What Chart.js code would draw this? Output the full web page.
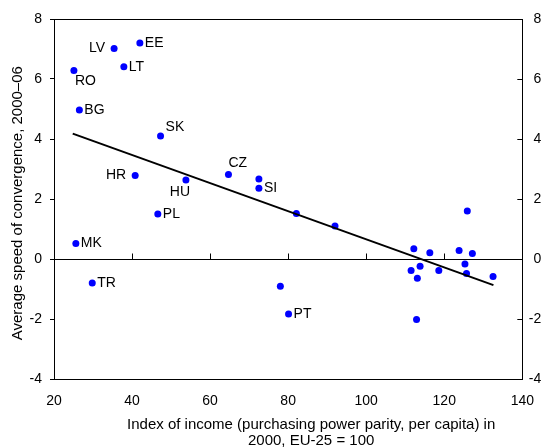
<!DOCTYPE html>
<html>
<head>
<meta charset="utf-8">
<script src="https://cdn.jsdelivr.net/npm/chart.js@4.4.1/dist/chart.umd.min.js"></script>
<style>
  body { margin: 0; background: #fff; }
  canvas { display: block; }
</style>
</head>
<body>
<canvas id="myChart" width="548" height="447"></canvas>
<script>
// country codes ('' = unlabelled point)
var countries = ['RO', 'BG', 'LV', 'EE', 'LT', 'SK', 'HR', 'HU', 'CZ', '', 'SI', 'PL', 'MK', 'TR',
                 '', '', '', '', '', '', '', '', '', '', '', '', '', '', '', '', 'PT'];
// income index 2000, EU-25 = 100
var income = [25.1, 26.5, 35.4, 42.0, 37.9, 47.3, 40.8, 53.8, 64.7, 72.5, 72.5, 46.6, 25.6, 29.8,
              82.1, 92.0, 125.9, 112.2, 116.3, 123.8, 127.2, 111.5, 113.8, 113.1, 118.6, 125.3, 125.7, 132.5, 112.9, 78.0, 80.1];
// average speed of convergence 2000-06
var speed = [6.28, 4.97, 7.02, 7.20, 6.41, 4.10, 2.78, 2.63, 2.82, 2.67, 2.36, 1.50, 0.52, -0.80,
             1.52, 1.10, 1.60, 0.34, 0.21, 0.28, 0.18, -0.38, -0.24, -0.64, -0.38, -0.17, -0.48, -0.58, -2.02, -0.91, -1.83];
// fitted line end points
var trendX = [24.8, 132.6];
var trendY = [4.18, -0.87];

var xTicks = [20, 40, 60, 80, 100, 120, 140];
var yTicks = [-4, -2, 0, 2, 4, 6, 8];

var xTitle = ['Index of income (purchasing power parity, per capita) in', '2000, EU-25 = 100'];
var yTitle = 'Average speed of convergence, 2000\u201306';

var FONT = 'Liberation Sans, Arial, sans-serif';

// where each country label sits relative to its dot
var labelPlace = {
    RO: 'belowRight', BG: 'right', LV: 'left', EE: 'right', LT: 'right', SK: 'aboveRight',
    HR: 'left', HU: 'below', CZ: 'above', SI: 'right', PL: 'right', MK: 'right', TR: 'right', PT: 'right'
};

var pointData = income.map(function (x, i) { return { x: x, y: speed[i] }; });
var trendData = trendX.map(function (x, i) { return { x: x, y: trendY[i] }; });

var framePlugin = {
    id: 'frame',
    afterDraw: function (chart) {
        var ctx = chart.ctx;
        var a = chart.chartArea;
        var xs = chart.scales.x, ys = chart.scales.y;
        ctx.save();
        ctx.strokeStyle = '#000';
        ctx.lineWidth = 1;
        // top border
        ctx.beginPath();
        ctx.moveTo(a.left, a.top + 0.5);
        ctx.lineTo(a.right, a.top + 0.5);
        ctx.stroke();
        // zero line with upward tick marks
        var y0 = Math.round(ys.getPixelForValue(0)) + 0.5;
        ctx.beginPath();
        ctx.moveTo(a.left, y0);
        ctx.lineTo(a.right, y0);
        xTicks.forEach(function (t) {
            if (t === xTicks[0] || t === xTicks[xTicks.length - 1]) return;
            var px = Math.round(xs.getPixelForValue(t)) + 0.5;
            ctx.moveTo(px, y0);
            ctx.lineTo(px, y0 - 6);
        });
        // inward ticks on right axis
        yTicks.forEach(function (t) {
            var py = Math.round(ys.getPixelForValue(t)) + 0.5;
            ctx.moveTo(a.right, py);
            ctx.lineTo(a.right - 5, py);
        });
        ctx.stroke();

        // x axis title, set a little right of centre as in the source
        ctx.fillStyle = '#000';
        ctx.font = '15px ' + FONT;
        ctx.textAlign = 'center';
        ctx.textBaseline = 'middle';
        var cx = (a.left + a.right) / 2 + 23;
        ctx.fillText(xTitle[0], cx, a.bottom + 46);
        ctx.fillText(xTitle[1], cx, a.bottom + 62);
        ctx.restore();
    }
};

var labelPlugin = {
    id: 'countryLabels',
    afterDatasetsDraw: function (chart) {
        var ctx = chart.ctx;
        var meta = chart.getDatasetMeta(1);
        ctx.save();
        ctx.fillStyle = '#000';
        ctx.font = '14px ' + FONT;
        ctx.textBaseline = 'middle';
        countries.forEach(function (c, i) {
            if (!c) return;
            var p = meta.data[i];
            var x = p.x, y = p.y;
            switch (labelPlace[c]) {
                case 'left': ctx.textAlign = 'right'; x -= 9; break;
                case 'belowRight': ctx.textAlign = 'left'; x += 1; y += 11; break;
                case 'aboveRight': ctx.textAlign = 'left'; x += 5; y -= 9; break;
                case 'above': ctx.textAlign = 'left'; y -= 11; break;
                case 'below': ctx.textAlign = 'center'; x -= 6; y += 12; break;
                default: ctx.textAlign = 'left'; x += 5;
            }
            ctx.fillText(c, x, y);
        });
        ctx.restore();
    }
};

var ctx = document.getElementById('myChart').getContext('2d');

var chart = new Chart(ctx, {
    type: 'scatter',
    data: {
        datasets: [
            {
                type: 'line',
                data: trendData,
                borderColor: '#000',
                borderWidth: 2,
                pointRadius: 0,
                fill: false,
            },
            {
                data: pointData,
                backgroundColor: '#0000ff',
                borderColor: '#0000ff',
                pointRadius: 3.5,
                borderWidth: 0,
            },
        ],
    },
    options: {
        responsive: false,
        animation: false,
        layout: { padding: { top: 19, right: 6, left: 0, bottom: 0 } },
        plugins: {
            legend: { display: false },
            tooltip: { enabled: false },
        },
        scales: {
            x: {
                type: 'linear',
                position: 'bottom',
                min: 20,
                max: 140,
                afterFit: function (s) { s.height = 68; },
                ticks: { stepSize: 20, color: '#000', font: { family: FONT, size: 14 }, padding: 14, maxRotation: 0 },
                grid: { display: false, drawTicks: false },
                border: { color: '#000', width: 1 },
            },
            y: {
                position: 'left',
                min: -4,
                max: 8,
                afterFit: function (s) { s.width = 54; },
                ticks: { stepSize: 2, color: '#000', font: { family: FONT, size: 14 }, padding: 8 },
                grid: { display: true, drawOnChartArea: false, drawTicks: true, tickLength: 4, color: '#000' },
                border: { color: '#000', width: 1 },
                title: {
                    display: true,
                    text: yTitle + '  ',
                    color: '#000',
                    font: { family: FONT, size: 15, lineHeight: 1.2 },
                    padding: { top: 9, bottom: 0 },
                },
            },
            y2: {
                position: 'right',
                min: -4,
                max: 8,
                afterFit: function (s) { s.width = 19; },
                ticks: { stepSize: 2, color: '#000', font: { family: FONT, size: 14 }, crossAlign: 'far' },
                grid: { display: false, drawTicks: false },
                border: { color: '#000', width: 1 },
            },
        },
    },
    plugins: [framePlugin, labelPlugin],
});
</script>
</body>
</html>
